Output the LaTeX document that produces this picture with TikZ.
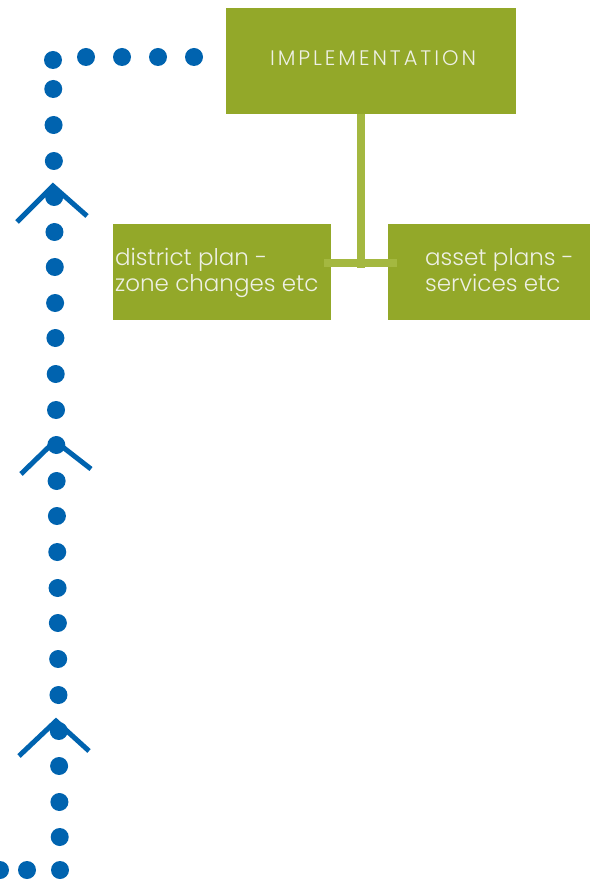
\documentclass[tikz,border=0pt]{standalone}
\usepackage{fontspec}
\setmainfont{Poppins}[UprightFont=* Light]
\definecolor{boxgreen}{HTML}{93A829}
\definecolor{linkgreen}{HTML}{A4B840}
\definecolor{loopblue}{HTML}{0063AF}
\definecolor{boxtext}{HTML}{EEF0E4}
\tikzset{
  stage/.style={fill=boxgreen, draw=none, inner sep=0pt, text=boxtext},
  stagetext/.style={anchor=base west, text=boxtext, align=left, inner sep=0pt,
    font=\fontsize{23}{26}\selectfont},
  link/.style={draw=linkgreen, line width=8pt},
  loopdot/.style={fill=loopblue},
  chevron/.style={draw=loopblue, line width=5pt},
}
\begin{document}
\begin{tikzpicture}[x=1pt, y=-1pt]
\useasboundingbox (0,0) rectangle (590,882);
% stage boxes
\node[stage, minimum width=290pt, minimum height=106pt] (impl) at (371,61) {};
\node[anchor=base, text=boxtext, inner sep=0pt] (impltext) at (373,66)
  {\fontsize{21}{24}\selectfont\addfontfeature{LetterSpace=14}IMPLEMENTATION};
\node[stage, minimum width=218pt, minimum height=96pt] (district) at (222,272) {};
\node[stage, minimum width=202pt, minimum height=96pt] (asset) at (489,272) {};
\node[stagetext] (districttext) at (115,291) {district plan -\\zone changes etc};
\node[stagetext] (assettext) at (425,291) {asset plans -\\services etc};
% tree connector
\coordinate (fork) at (361,268);
\coordinate (forkL) at (324,263.5);
\coordinate (forkR) at (397,263.5);
\draw[link] (impl.south -| fork) -- (fork);
\draw[link] (forkL) -- (forkR);
% feedback loop of dots
\foreach \px in {86,122,158,194} \fill[loopdot] (\px,57) circle (9pt);
\foreach \py in {60,89,125,161,197,232,267,303,338,374,410,445,481,516,552,588,623,659,695,731,766,802,837,870}
  \fill[loopdot] ({53+7*(\py-60)/810},\py) circle (9pt);
\foreach \px in {0,27} \fill[loopdot] (\px,870) circle (9pt);
% upward chevrons
\coordinate (c1) at (53,186);
\coordinate (c2) at (55,441);
\coordinate (c3) at (56,721);
\draw[chevron] (17,222) -- (c1) -- (87,216);
\draw[chevron] (21,474) -- (c2) -- (91,469);
\draw[chevron] (19,756) -- (c3) -- (89,751);
\end{tikzpicture}
\end{document}
